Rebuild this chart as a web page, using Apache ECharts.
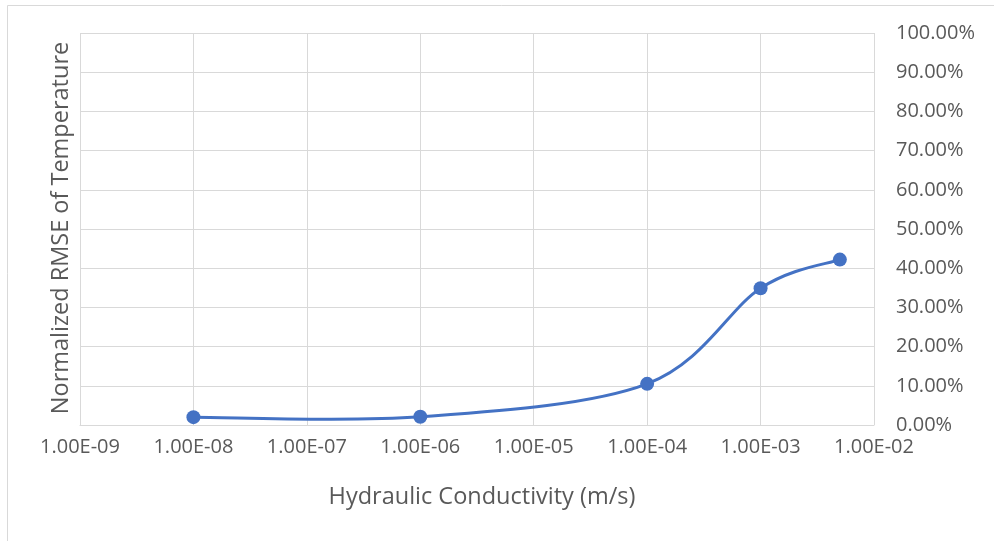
<!DOCTYPE html>
<html>
<head>
<meta charset="utf-8">
<script src="https://cdn.jsdelivr.net/npm/echarts@6/dist/echarts.min.js"></script>
<style>
html,body{margin:0;padding:0;background:#fff;}
#chart{width:994px;height:541px;}
</style>
</head>
<body>
<div id="chart"></div>
<script>
var conductivity = [1e-8, 1e-6, 1e-4, 1e-3, 5e-3];
var nrmse = [0.020, 0.021, 0.105, 0.349, 0.422];
var xTitle = 'Hydraulic Conductivity (m/s)';
var yTitle = 'Normalized RMSE of Temperature';

var FONT = '"Open Sans", sans-serif';
var TXT = '#595959';
var BLUE = '#4472C4';

function fmtExp(v) {
  var e = Math.round(Math.log10(v));
  var m = v / Math.pow(10, e);
  var s = e < 0 ? '-' : '+';
  var a = Math.abs(e);
  return m.toFixed(2) + 'E' + s + (a < 10 ? '0' + a : '' + a);
}

var pairs = conductivity.map(function (x, i) { return [x, nrmse[i]]; });

// Spreadsheet-style smoothed line (Catmull-Rom -> cubic Bezier), positions from the axes
function renderSmooth(params, api) {
  if (params.dataIndex !== 0) return null;
  var p = pairs.map(function (d) { return api.coord(d); });
  var n = p.length;
  var d = 'M' + p[0][0] + ' ' + p[0][1];
  for (var i = 0; i < n - 1; i++) {
    var a = p[i - 1] || p[i], b = p[i], c = p[i + 1], e = p[i + 2] || p[i + 1];
    var c1x = b[0] + (c[0] - a[0]) / 6, c1y = b[1] + (c[1] - a[1]) / 6;
    var c2x = c[0] - (e[0] - b[0]) / 6, c2y = c[1] - (e[1] - b[1]) / 6;
    d += ' C' + c1x + ' ' + c1y + ' ' + c2x + ' ' + c2y + ' ' + c[0] + ' ' + c[1];
  }
  return {
    type: 'path',
    shape: {pathData: d},
    style: {fill: 'none', stroke: BLUE, lineWidth: 3, lineCap: 'round', lineJoin: 'round'}
  };
}

var chart = echarts.init(document.getElementById('chart'), null, {renderer: 'canvas'});
chart.setOption({
  animation: false,
  backgroundColor: '#ffffff',
  grid: {left: 80, right: 120, top: 33, bottom: 116, containLabel: false},
  graphic: [
    {type: 'rect', shape: {x: 7.5, y: 5.5, width: 1100, height: 700},
     style: {fill: 'none', stroke: '#d9d9d9', lineWidth: 1}, silent: true, z: -1},
    {type: 'text', x: 61, y: 228, rotation: Math.PI / 2,
     style: {text: yTitle, font: '23.5px ' + FONT, fill: TXT, align: 'center', verticalAlign: 'middle'}},
    {type: 'text', x: 482, y: 497,
     style: {text: xTitle, font: '23.5px ' + FONT, fill: TXT, align: 'center', verticalAlign: 'middle'}}
  ],
  xAxis: {
    type: 'log', logBase: 10, min: 1e-9, max: 1e-2,
    axisLine: {show: true, lineStyle: {color: '#d9d9d9', width: 1}},
    axisTick: {show: false},
    splitLine: {show: true, lineStyle: {color: '#d9d9d9', width: 1}},
    minorTick: {show: false},
    axisLabel: {
      color: TXT, fontFamily: FONT, fontSize: 20, margin: 12,
      formatter: function (v) { return fmtExp(v); }
    }
  },
  yAxis: {
    type: 'value', position: 'right', min: 0, max: 1, interval: 0.1,
    axisLine: {show: false},
    axisTick: {show: false},
    splitLine: {show: true, lineStyle: {color: '#d9d9d9', width: 1}},
    axisLabel: {
      color: TXT, fontFamily: FONT, fontSize: 20, margin: 22, align: 'left',
      formatter: function (v) { return (v * 100).toFixed(2) + '%'; }
    }
  },
  series: [{
    type: 'custom',
    renderItem: renderSmooth,
    data: pairs,
    encode: {x: 0, y: 1},
    z: 2
  }, {
    type: 'scatter',
    data: pairs,
    symbol: 'circle', symbolSize: 14,
    itemStyle: {color: BLUE, opacity: 1},
    z: 3
  }]
});
</script>
</body>
</html>
